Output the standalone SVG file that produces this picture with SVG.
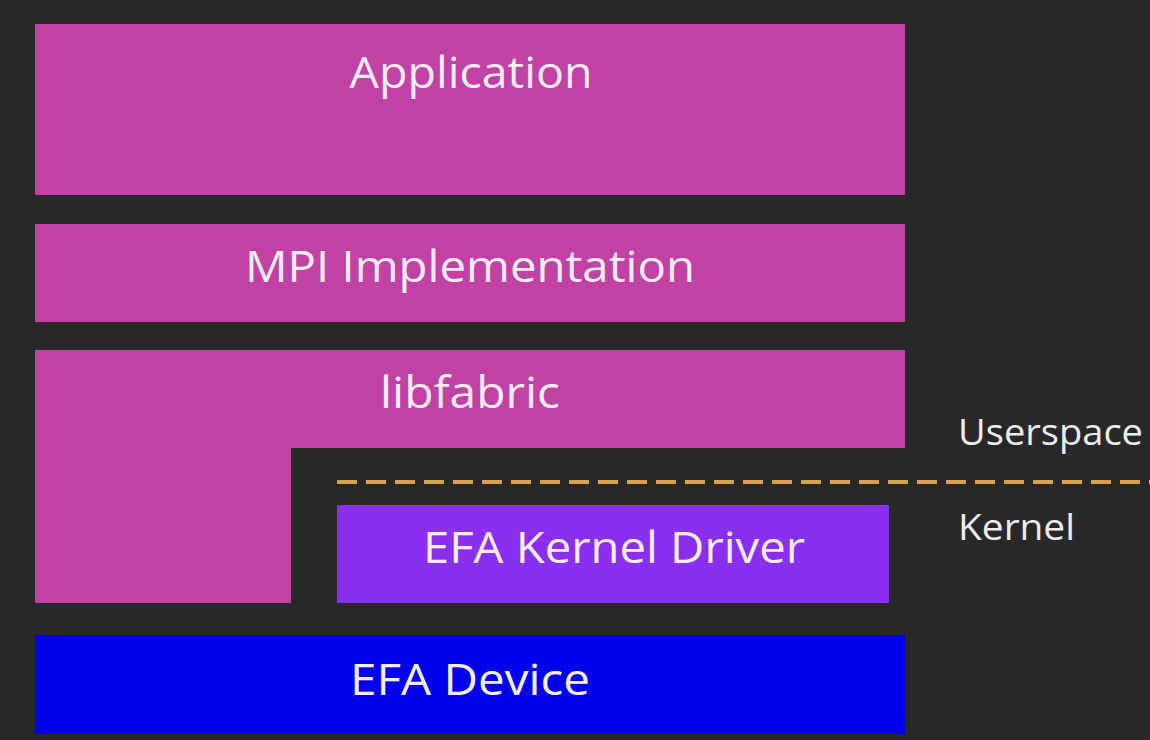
<svg xmlns="http://www.w3.org/2000/svg" width="1150" height="740" viewBox="0 0 1150 740">
<style>
.t{font-family:"Open Sans","Liberation Sans",sans-serif;fill:#f6ecf6;text-anchor:middle;font-size:44px}
.s{font-family:"Open Sans","Liberation Sans",sans-serif;fill:#ececec;font-size:37px}
.pink{fill:#c241a4}
</style>
<rect width="1150" height="740" fill="#282828"/>
<g id="application"><rect class="pink" x="35" y="24" width="870" height="171"/><text class="t" x="471" y="88" textLength="243" lengthAdjust="spacingAndGlyphs">Application</text></g>
<g id="mpi"><rect class="pink" x="35" y="224" width="870" height="98"/><text class="t" x="470" y="282" textLength="450" lengthAdjust="spacingAndGlyphs">MPI Implementation</text></g>
<g id="libfabric"><path class="pink" d="M35 350H905V448H291V603H35Z"/><text class="t" x="470" y="408" textLength="180" lengthAdjust="spacingAndGlyphs">libfabric</text></g>
<g id="driver"><rect fill="#8a2ff0" x="337" y="505" width="552" height="98"/><text class="t" x="614" y="563" textLength="382" lengthAdjust="spacingAndGlyphs">EFA Kernel Driver</text></g>
<g id="device"><rect fill="#0000ee" x="35" y="635" width="870" height="99"/><text class="t" x="470" y="695" textLength="240" lengthAdjust="spacingAndGlyphs">EFA Device</text></g>
<g id="connectors"><line x1="337" y1="482" x2="1150" y2="482" stroke="#d9a04e" stroke-width="4" stroke-dasharray="20 9"/></g>
<g id="labels"><text class="s" x="958" y="445" textLength="185" lengthAdjust="spacingAndGlyphs">Userspace</text><text class="s" x="958" y="540" textLength="117" lengthAdjust="spacingAndGlyphs">Kernel</text></g>
</svg>
